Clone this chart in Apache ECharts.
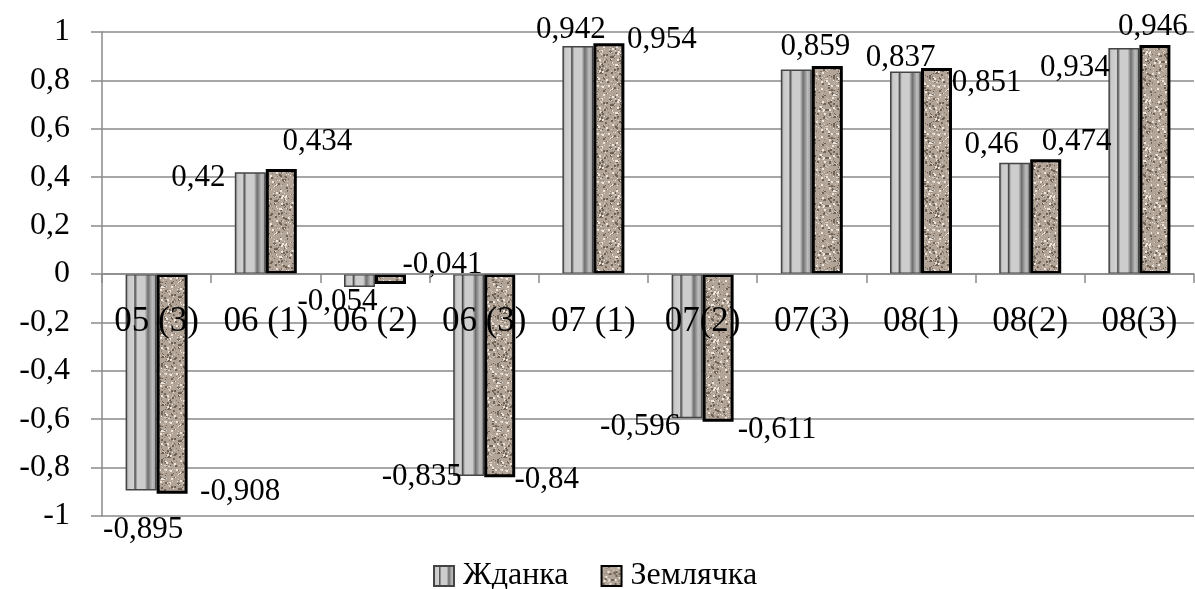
<!DOCTYPE html>
<html>
<head>
<meta charset="utf-8">
<script src="https://cdn.jsdelivr.net/npm/echarts@6/dist/echarts.min.js"></script>
<style>
html,body{margin:0;padding:0;background:#fff;}
#chart{width:1195px;height:589px;}
</style>
</head>
<body>
<div id="chart"></div>
<script>
// ---- data ----
const categories = ['05 (3)', '06 (1)', '06 (2)', '06 (3)', '07 (1)', '07(2)', '07(3)', '08(1)', '08(2)', '08(3)'];
const seriesNames = ['Жданка', 'Землячка'];
const zhdankaValues = [-0.895, 0.42, -0.054, -0.835, 0.942, -0.596, 0.845, 0.837, 0.46, 0.934];
const zemlyachkaValues = [-0.908, 0.434, -0.041, -0.84, 0.954, -0.611, 0.859, 0.851, 0.474, 0.946];

// ---- label placement (pixel offsets from bar end; null = label not shown) ----
const zhdankaLabelOffsets = [[2,39],[-52,5],[-22,15],[-47,1],[-7,-16],[-47,9],null,[-5,-14],[-23,-18],[-49,20]];
const zemlyachkaLabelOffsets = [[68,-2],[36,-27],[52,-19],[47,3],[53,-3],[59,8],[-12,-19],[50,15],[31,-17],[-2,-18]];

const FONT = '"Liberation Serif", "Times New Roman", serif';

// textured pattern for Землячка (deterministic speckles)
function makeGranite() {
  const c = document.createElement('canvas');
  c.width = 48; c.height = 48;
  const g = c.getContext('2d');
  g.fillStyle = '#b2a496';
  g.fillRect(0, 0, 48, 48);
  function h(n) { const s = Math.sin(n * 12.9898) * 43758.5453; return s - Math.floor(s); }
  for (let k = 0; k < 420; k++) {
    const x = Math.floor(h(k + 1) * 48), y = Math.floor(h(k + 101.7) * 48);
    const t = h(k + 333.3);
    let col;
    if (t < 0.3) col = '#6f6257';
    else if (t < 0.55) col = '#8d7f72';
    else if (t < 0.8) col = '#d6ccc2';
    else col = '#ece6df';
    g.fillStyle = col;
    const sz = t < 0.15 || t > 0.9 ? 2 : 1;
    g.fillRect(x, y, sz, sz);
  }
  return c;
}
const granite = makeGranite();

const grayGrad = new echarts.graphic.LinearGradient(0, 0, 1, 0, [
  {offset: 0, color: '#8c8c8c'},
  {offset: 0.1, color: '#c9c9c9'},
  {offset: 0.26, color: '#d2d2d2'},
  {offset: 0.3, color: '#4a4a4a'},
  {offset: 0.38, color: '#cdcdcd'},
  {offset: 0.62, color: '#cdcdcd'},
  {offset: 0.72, color: '#6e6e6e'},
  {offset: 0.86, color: '#bcbcbc'},
  {offset: 1, color: '#9a9a9a'}
]);

function fmt(v) { return String(v).replace('.', ','); }

const valueArrays = [zhdankaValues, zemlyachkaValues];
const offsetArrays = [zhdankaLabelOffsets, zemlyachkaLabelOffsets];

function buildData(s) {
  return valueArrays[s].map((v, i) => {
    const item = {value: v};
    if (!offsetArrays[s][i]) item.label = {show: false};
    return item;
  });
}

const GRID = {left: 102, right: 1, top: 32, bottom: 73};
const plotH = 589 - GRID.top - GRID.bottom;
const yMin = -1, yMax = 1;
// distance from grid bottom up to the zero line, via the axis range
const zeroShift = plotH * (0 - yMin) / (yMax - yMin);

const chart = echarts.init(document.getElementById('chart'), null, {renderer: 'canvas'});
chart.setOption({
  animation: false,
  backgroundColor: '#fff',
  textStyle: {fontFamily: FONT, color: '#000'},
  grid: Object.assign({containLabel: false}, GRID),
  legend: {
    data: seriesNames,
    left: 428,
    top: 555,
    itemWidth: 20,
    itemHeight: 20,
    itemGap: 32,
    icon: 'rect',
    textStyle: {fontFamily: FONT, fontSize: 32, color: '#000', padding: [0, 0, 0, 4]}
  },
  xAxis: {
    type: 'category',
    data: categories,
    z: 3,
    position: 'bottom',
    offset: -zeroShift,
    axisLine: {onZero: false, lineStyle: {color: '#8a8a8a', width: 1.5}},
    axisTick: {show: true, length: 9, lineStyle: {color: '#8a8a8a', width: 1.5}},
    axisLabel: {fontFamily: FONT, fontSize: 35, color: '#000', margin: 30, interval: 0},
    splitLine: {show: false}
  },
  yAxis: {
    type: 'value',
    min: yMin,
    max: yMax,
    interval: 0.2,
    axisLine: {show: true, lineStyle: {color: '#8a8a8a', width: 1.5}},
    axisTick: {show: true, length: 11, lineStyle: {color: '#8a8a8a', width: 1.5}},
    axisLabel: {
      fontFamily: FONT, fontSize: 32, color: '#000', margin: 32,
      formatter: v => fmt(Math.round(v * 10) / 10)
    },
    splitLine: {show: true, lineStyle: {color: '#8a8a8a', width: 1.5}}
  },
  series: [0, 1].map(s => ({
    name: seriesNames[s],
    type: 'bar',
    data: buildData(s),
    barWidth: 31,
    barGap: '0%',
    itemStyle: s === 0
      ? {color: grayGrad, borderColor: '#444', borderWidth: 1.5}
      : {color: {image: granite, repeat: 'repeat'}, borderColor: '#000', borderWidth: 3},
    label: {
      show: true,
      fontFamily: FONT,
      fontSize: 31,
      color: '#000',
      formatter: p => fmt(p.value)
    },
    labelLayout: function (params) {
      const i = params.dataIndex;
      const off = offsetArrays[s][i];
      if (!off) return {};
      const r = params.rect;
      const v = valueArrays[s][i];
      const endY = v >= 0 ? r.y : r.y + r.height;
      return {
        x: r.x + r.width / 2 + off[0],
        y: endY + off[1],
        align: 'center',
        verticalAlign: 'middle'
      };
    }
  }))
});
</script>
</body>
</html>
